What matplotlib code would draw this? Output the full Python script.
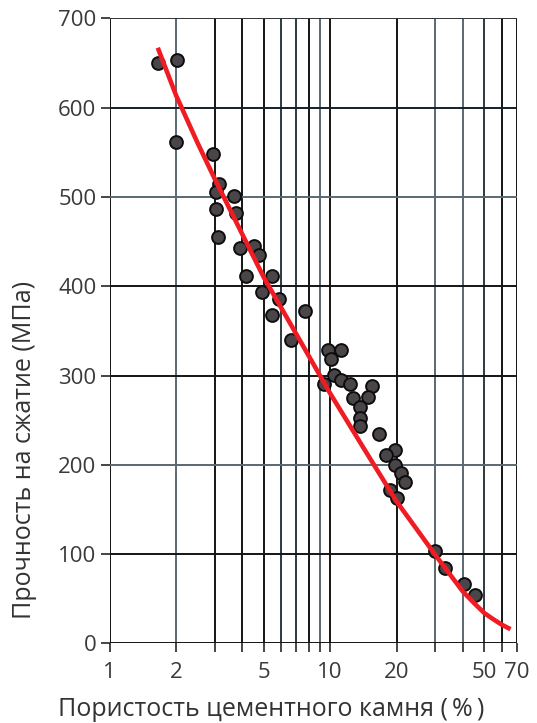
import matplotlib
matplotlib.use("Agg")
import matplotlib.pyplot as plt

# measured points: porosity (%) vs compressive strength (MPa)
porosity = [1.65, 2.02, 2.0, 2.94, 3.13, 3.04, 3.66, 3.04, 3.73, 3.10,
            3.89, 4.52, 4.76, 4.14, 5.47, 4.93, 5.87, 5.44, 7.69, 6.64,
            9.75, 11.2, 10.1, 9.42, 10.46, 11.2, 12.25, 15.4, 12.7, 14.8,
            13.6, 13.6, 13.6, 16.7, 19.7, 18.0, 19.7, 21.0, 21.8, 18.6,
            20.0, 29.9, 33.2, 40.3, 45.3]
strength = [650, 653, 562, 548, 515, 506, 501, 487, 482, 455,
            443, 445, 435, 412, 412, 394, 386, 368, 372, 340,
            329, 329, 318, 290, 301, 295, 290, 288, 275, 276,
            265, 252, 243, 234, 217, 211, 200, 191, 181, 172,
            163, 103, 84, 67, 54]

# red trend curve
fit_x = [1.654, 2, 2.5, 3, 4, 5, 7, 10, 14, 20, 25, 30, 35, 40, 45, 50, 55, 60, 65.7]
fit_y = [667, 614, 561, 520, 458, 410, 347, 280, 221, 159, 126, 99, 77, 58, 45, 34, 27, 21, 16]

x_grid = [1, 2, 3, 4, 5, 6, 7, 8, 9, 10, 20, 30, 40, 50, 60, 70]
x_ticklabels = ["1", "2", "", "", "5", "", "", "", "", "10", "20", "", "", "50", "", "70"]
y_grid = [0, 100, 200, 300, 400, 500, 600, 700]

dark = "#141414"
slate = "#5a6970"
vcolors = [dark, slate, dark, dark, dark, "#2c3a40", "#2c3a40", dark, slate, dark,
           dark, slate, slate, "#2c3a40", dark, dark]
hcolors = [dark, dark, slate, dark, dark, slate, "#10202a", "#333333"]

plt.rcParams['font.family'] = ['Open Sans', 'DejaVu Sans']

fig = plt.figure(figsize=(5.37, 7.23), dpi=100)
ax = fig.add_axes([0.204, 0.110, 0.758, 0.8647])

ax.set_xscale("log")
ax.set_xlim(1, 70)
ax.set_ylim(0, 700)

for xv, c in zip(x_grid, vcolors):
    ax.axvline(xv, color=c, lw=1.4, zorder=1)
for yv, c in zip(y_grid, hcolors):
    ax.axhline(yv, color=c, lw=1.4, zorder=1)

for s in ax.spines.values():
    s.set_visible(False)

ax.scatter(porosity, strength, s=85, c="#4a4548", edgecolors="#0d0d0d",
           linewidths=1.4, zorder=3)
ax.plot(fit_x, fit_y, color="#f01c24", lw=3.3, zorder=4,
        solid_capstyle="butt", solid_joinstyle="round")

ax.set_xticks(x_grid)
ax.set_xticklabels(x_ticklabels)
ax.xaxis.set_minor_locator(matplotlib.ticker.NullLocator())
ax.set_yticks(y_grid)
ax.tick_params(axis="both", which="major", length=6.5, width=1.1, color=dark,
               labelsize=16, labelcolor="#3a3a3a", pad=3)
ax.tick_params(axis="x", pad=7)

fig.text(271.5 / 537, 1 - 716 / 723, "Пористость цементного камня (\u2009%\u2009)",
         fontsize=18, color="#333333", ha="center", va="baseline",
         family=['Open Sans', 'DejaVu Sans'])
fig.text(25 / 537, 1 - 450 / 723, "Прочность на сжатие (МПа)",
         fontsize=18, color="#333333", ha="center", va="center", rotation=90)

fig.savefig("out.png", dpi=100)
